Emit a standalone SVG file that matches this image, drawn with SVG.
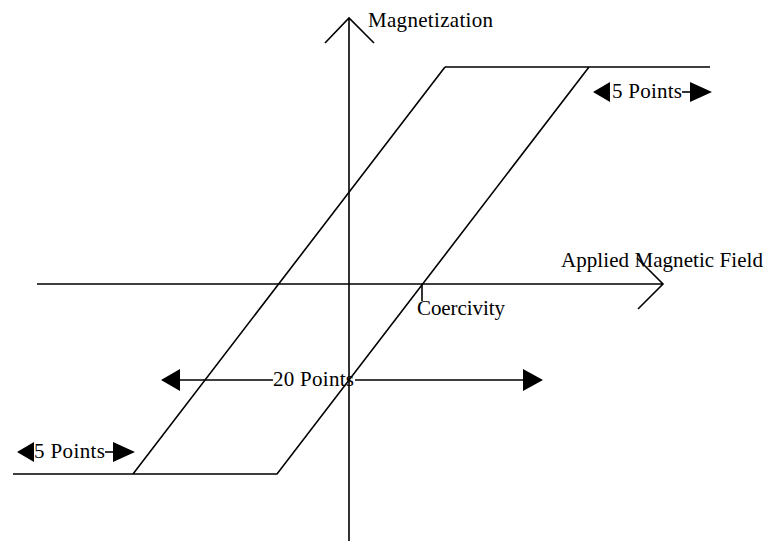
<svg xmlns="http://www.w3.org/2000/svg" width="769" height="543" viewBox="0 0 769 543">
<style>
.ln{stroke:#000;stroke-width:1.6;fill:none}
.ah{fill:#000;stroke:none}
text{font-family:"Liberation Serif","Times New Roman",serif;font-size:21px;fill:#000}
</style>
<rect width="769" height="543" fill="#fff"/>
<g id="axes">
<path class="ln" d="M349,18 V541 M325,43 L349,18 L374,43"/>
<path class="ln" d="M37,284 H663 M637,258 L663,284 L638,309"/>
<text x="368" y="27" textLength="125" lengthAdjust="spacing">Magnetization</text>
<text x="561" y="267" textLength="202" lengthAdjust="spacing">Applied Magnetic Field</text>
</g>
<g id="loop">
<path class="ln" d="M13,474 H277 L589,67 M445,67 H710 M445,67 L133,474"/>
</g>
<g id="coercivity">
<path class="ln" d="M422,284 V301"/>
<text x="417" y="315" textLength="88" lengthAdjust="spacing">Coercivity</text>
</g>
<g id="span20">
<path class="ln" d="M180,380 H273 M355,380 H523"/>
<path class="ah" d="M161,380 L180,369 L180,391 Z M543,380 L523,369 L523,391 Z"/>
<text x="273" y="386" textLength="81" lengthAdjust="spacing">20 Points</text>
</g>
<g id="span5top">
<path class="ln" d="M682,92 H690"/>
<text x="612" y="98" textLength="70" lengthAdjust="spacing">5 Points</text>
<path class="ah" d="M593,92 L610,82 L610,102 Z M712,92 L690,82 L690,102 Z"/>
</g>
<g id="span5bottom">
<path class="ln" d="M105,452 H113"/>
<text x="34" y="458" textLength="71" lengthAdjust="spacing">5 Points</text>
<path class="ah" d="M17,452 L34,442 L34,462 Z M135,452 L113,442 L113,462 Z"/>
</g>
</svg>
